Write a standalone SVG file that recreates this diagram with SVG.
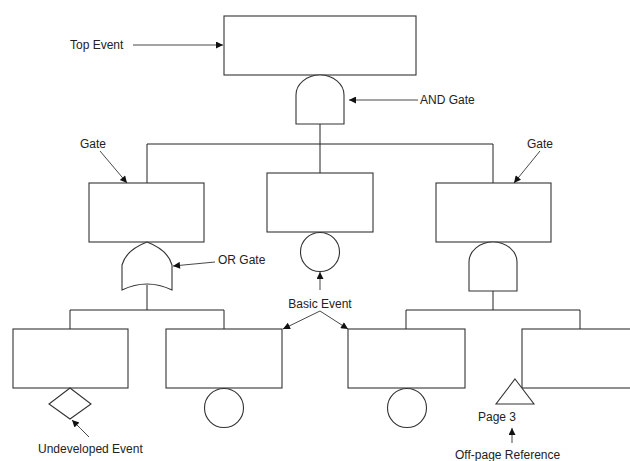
<svg xmlns="http://www.w3.org/2000/svg" width="630" height="461" viewBox="0 0 630 461">
<style>
.s{fill:#fff;stroke:#333;stroke-width:1.1}
.c{fill:none;stroke:#222;stroke-width:1}
.a{fill:none;stroke:#333;stroke-width:0.9;marker-end:url(#ah)}
text{font-family:"Liberation Sans",Arial,sans-serif;font-size:12px;fill:#222;dominant-baseline:central}
</style>
<defs>
<marker id="ah" viewBox="0 0 10 10" refX="10" refY="5" markerWidth="9" markerHeight="7" markerUnits="userSpaceOnUse" orient="auto">
<path d="M0,0 L10,5 L0,10 Z" fill="#111"/>
</marker>
</defs>
<rect width="630" height="461" fill="#fff"/>
<g id="connectors">
<path class="c" d="M320,124 V144 M147,144 H493 M147,144 V183 M320,144 V173 M493,144 V183"/>
<path class="c" d="M147,285 V310 M70,310 H224 M70,310 V329 M224,310 V329"/>
<path class="c" d="M493,291 V310 M406,310 H580 M406,310 V329 M580,310 V329"/>
</g>
<g id="top-event"><rect class="s" x="224" y="16" width="192" height="59"/></g>
<g id="and-gate-top"><path class="s" d="M296,124 L296,95 A24,20 0 0 1 344,95 L344,124 Z"/></g>
<g id="gate-left"><rect class="s" x="89" y="183" width="115" height="59"/></g>
<g id="event-mid"><rect class="s" x="267" y="173" width="106" height="59"/></g>
<g id="gate-right"><rect class="s" x="436" y="183" width="115" height="59"/></g>
<g id="or-gate"><path class="s" d="M122,290 L122,265 Q126,250 147,242 Q168,250 172,265 L172,290 Q147,278 122,290 Z"/></g>
<g id="basic-mid"><circle class="s" cx="320" cy="252" r="19.5"/></g>
<g id="and-gate-right"><path class="s" d="M469,291 L469,262 A24,20 0 0 1 517,262 L517,291 Z"/></g>
<g id="event-b1"><rect class="s" x="13" y="329" width="115" height="59"/></g>
<g id="event-b2"><rect class="s" x="166" y="329" width="116" height="59"/></g>
<g id="event-b3"><rect class="s" x="348" y="329" width="117" height="59"/></g>
<g id="event-b4"><rect class="s" x="522" y="329" width="115" height="59"/></g>
<g id="undeveloped"><path class="s" d="M70,388 L91,404 L70,419 L49,404 Z"/></g>
<g id="basic-b2"><circle class="s" cx="224" cy="408" r="19.5"/></g>
<g id="basic-b3"><circle class="s" cx="407" cy="408" r="19.5"/></g>
<g id="offpage"><path class="s" d="M515,379 L534,404 L496,404 Z"/></g>
<g id="labels">
<text x="70" y="45">Top Event</text>
<path class="a" d="M133,45 H223"/>
<text x="420" y="100">AND Gate</text>
<path class="a" d="M418,100 H349"/>
<text x="80" y="144">Gate</text>
<path class="a" d="M100,151 L127,183"/>
<text x="527" y="144">Gate</text>
<path class="a" d="M540,151 L514,183"/>
<text x="218" y="260">OR Gate</text>
<path class="a" d="M215,262 L173,266"/>
<text x="320" y="304" text-anchor="middle">Basic Event</text>
<path class="a" d="M320,290 V272"/>
<path class="a" d="M320,311 L283,329"/>
<path class="a" d="M320,311 L348,329"/>
<text x="38" y="449">Undeveloped Event</text>
<path class="a" d="M89,437 Q80,428 72,420"/>
<text x="478" y="417">Page 3</text>
<path class="a" d="M512,443 V428"/>
<text x="455" y="455">Off-page Reference</text>
</g>
</svg>
